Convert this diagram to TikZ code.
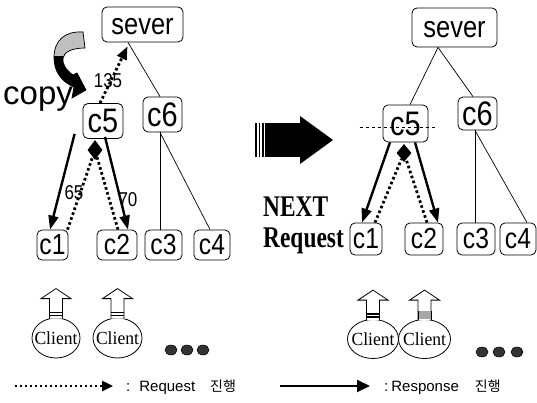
\documentclass[tikz,border=0pt]{standalone}
\usepackage{fontspec}
\usetikzlibrary{arrows.meta,shapes.geometric}
\setmainfont{Liberation Serif}
\newfontfamily\boxfont[FakeStretch=0.85]{Liberation Sans}
\newfontfamily\plainsans{Liberation Sans}
\newfontfamily\headfont[FakeStretch=0.78]{Liberation Serif}
\newfontfamily\clientfont[FakeStretch=0.95]{Liberation Serif}
\newfontfamily\cjk{Noto Sans CJK KR}

\begin{document}
\begin{tikzpicture}[x=1pt,y=-1pt,
  box/.style={draw, rounded corners=5pt, line width=0.8pt, inner sep=0pt},
  topbox/.style={box, font=\boxfont\fontsize{30}{30}\selectfont, text height=21pt, text depth=0pt},
  midbox/.style={box, font=\boxfont\fontsize{34}{34}\selectfont},
  leafbox/.style={box, font=\boxfont\fontsize{29}{29}\selectfont},
  link/.style={line width=0.7pt},
  resp/.style={line width=2.4pt, -{Triangle[length=14pt,width=10pt]}},
  reqline/.style={line width=2.8pt, dash pattern=on 2.6pt off 2.6pt},
  joint/.style={diamond, fill, inner sep=0pt, minimum width=15pt, minimum height=20pt},
  weight/.style={font=\boxfont\fontsize{20}{20}\selectfont, inner sep=0pt},
  client/.style={ellipse, draw, line width=0.8pt, inner sep=0pt, minimum height=40pt,
    font=\clientfont\fontsize{18.5}{18.5}\selectfont},
  moredot/.style={ellipse, fill=black!80, draw=black, line width=0.5pt, inner sep=0pt,
    minimum width=12pt, minimum height=10pt},
  legend/.style={font=\plainsans\fontsize{15}{15}\selectfont, inner sep=0pt},
  clientarrow/.pic={
    \draw[line width=0.8pt, fill=white] (-6.5,1) -- (-6.5,-19) -- (-15,-19) -- (0,-29)
      -- (15,-19) -- (6.5,-19) -- (6.5,1);
    \fill (-6.5,-6) rectangle (6.5,-4.5);
    \fill (-6.5,-2.8) rectangle (6.5,-1.3);
  },
  clientarrowshade/.pic={
    \draw[line width=0.8pt, fill=white] (-6.5,1) -- (-6.5,-19) -- (-15,-19) -- (0,-29)
      -- (15,-19) -- (6.5,-19) -- (6.5,1);
    \fill[gray!70] (-6.5,-8) rectangle (6.5,0);
    \draw[line width=0.8pt] (-6.5,1) -- (-6.5,-8) (6.5,1) -- (6.5,-8);
  }
]
\useasboundingbox (0,0) rectangle (537,403);

% ---------------- left tree ----------------
\node[topbox, minimum width=81pt, minimum height=35pt] (sL) at (142.5,24.5) {sever};
\node[midbox, minimum width=40pt, minimum height=35pt] (c5L) at (103,121) {c5};
\node[midbox, minimum width=39pt, minimum height=35pt] (c6L) at (162.5,114.5) {c6};
\node[leafbox, minimum width=31pt, minimum height=30pt] (c1L) at (52.5,245) {c1};
\node[leafbox, minimum width=40pt, minimum height=30pt] (c2L) at (117,245) {c2};
\node[leafbox, minimum width=37pt, minimum height=30pt] (c3L) at (163.5,245) {c3};
\node[leafbox, minimum width=36pt, minimum height=30pt] (c4L) at (212,245) {c4};
\node[joint] (dL) at (95,150) {};

\draw[link] ([xshift=-14.5pt]sL.south) -- ([xshift=-2.5pt]c6L.north);
\draw[link] ([xshift=-2.5pt]c6L.south) -- ([xshift=-3.5pt]c3L.north);
\draw[link] ([xshift=-2.5pt]c6L.south) -- ([xshift=-2pt]c4L.north);

\node[weight] (w135) at (108,81) {135};
\node[weight] (w65) at (74,193) {65};
\node[weight] (w70) at (128,200) {70};

\draw[reqline, -{Triangle[length=13pt,width=10pt]}] ([xshift=-3pt]c5L.north) -- ([xshift=-15pt,yshift=-4pt]sL.south);
\draw[reqline] ([xshift=15pt]c1L.north) -- (dL);
\draw[reqline] ([xshift=1pt]c2L.north) -- (dL);
\draw[resp] ([xshift=-8pt,yshift=5pt]c5L.south west) -- ([xshift=-2.5pt]c1L.north);
\draw[resp] ([xshift=2pt,yshift=2pt]c5L.south) -- ([xshift=11pt]c2L.north);

% curved copy arrow
\def\copyshape{(83,32) .. controls (65,31) and (54,40) .. (54,58)
  .. controls (54,72) and (62,82) .. (74,87) -- (72,98) -- (86,90) -- (77,73) -- (73,75)
  .. controls (66,70) and (62,64) .. (63,58) .. controls (64,52) and (72,48) .. (85,48) -- cycle}
\fill \copyshape;
\begin{scope}
  \clip (40,20) rectangle (100,56);
  \fill[gray!50] \copyshape;
\end{scope}
\draw[line width=0.7pt] \copyshape;
\node[font=\plainsans\fontsize{33}{33}\selectfont, inner sep=0pt, anchor=base west] (copy) at (3,105) {copy};

% ---------------- transition arrow ----------------
\foreach \sx in {256,259.5,263} \draw[line width=1.6pt] (\sx,123) -- (\sx,157);
\fill (264.5,123) rectangle (301,157);
\fill (300,116) -- (333,140) -- (300,164) -- cycle;
\node[font=\headfont\bfseries\fontsize{30}{30}\selectfont, inner sep=0pt, anchor=base west] (next) at (263,216) {NEXT};
\node[font=\headfont\bfseries\fontsize{30}{30}\selectfont, inner sep=0pt, anchor=base west] (request) at (263,247) {Request};

% ---------------- right tree ----------------
\node[topbox, minimum width=85pt, minimum height=39pt] (sR) at (454.5,27.5) {sever};
\node[midbox, minimum width=45pt, minimum height=37pt] (c5R) at (405.5,123.5) {c5};
\node[midbox, minimum width=39pt, minimum height=33pt] (c6R) at (477.5,113.5) {c6};
\node[leafbox, minimum width=32pt, minimum height=32pt] (c1R) at (366,239) {c1};
\node[leafbox, minimum width=38pt, minimum height=32pt] (c2R) at (424,239) {c2};
\node[leafbox, minimum width=38pt, minimum height=32pt] (c3R) at (476,239) {c3};
\node[leafbox, minimum width=36pt, minimum height=32pt] (c4R) at (518,239) {c4};
\node[joint, minimum height=18pt] (dR) at (404,153) {};

\draw[link] ([xshift=-16.5pt]sR.south) -- ([xshift=4.5pt]c5R.north);
\draw[link] ([xshift=-16.5pt]sR.south) -- ([xshift=-4.5pt]c6R.north);
\draw[link] ([xshift=-2.5pt]c6R.south) -- ([xshift=-1pt]c3R.north);
\draw[link] ([xshift=-2.5pt]c6R.south) -- ([xshift=9pt]c4R.north);
\draw[dashed, line width=0.6pt] ([xshift=-23pt,yshift=-3.5pt]c5R.west) -- ([xshift=9pt,yshift=-3.5pt]c5R.east);

\draw[reqline] ([xshift=9pt]c1R.north) -- (dR);
\draw[reqline] ([xshift=3pt]c2R.north) -- (dR);
\draw[resp] ([xshift=-15.5pt]c5R.south) -- ([xshift=-4pt]c1R.north);
\draw[resp] ([xshift=9.5pt]c5R.south) -- ([xshift=14pt]c2R.north);

% ---------------- clients ----------------
\node[client, minimum width=48pt] (cl1) at (56,338) {\makebox[0pt]{Client}};
\node[client, minimum width=49pt] (cl2) at (117.5,338) {\makebox[0pt]{Client}};
\node[client, minimum width=51pt, minimum height=39pt] (cr1) at (373,339) {\makebox[0pt]{Client}};
\node[client, minimum width=52pt, minimum height=39pt] (cr2) at (424.5,339) {\makebox[0pt]{Client}};
\pic at (cl1.north) {clientarrow};
\pic at (cl2.north) {clientarrow};
\pic at (cr1.north) {clientarrow};
\pic at (cr2.north) {clientarrowshade};

\foreach \dx [count=\i] in {171,187,203} \node[moredot] (ldot\i) at (\dx,350) {};
\foreach \dx [count=\i] in {482,499,517} \node[moredot] (rdot\i) at (\dx,352) {};

% ---------------- legend ----------------
\coordinate (rq0) at (15,386);
\coordinate (rq1) at (113,386);
\draw[reqline, line width=2.4pt, dash pattern=on 2.4pt off 2.6pt, -{Triangle[length=11pt,width=10pt]}] (rq0) -- (rq1);
\node[legend, anchor=base west] (rqtext) at (126,391) {:\hspace{9pt}Request\hspace{15pt}{\cjk\fontsize{14}{14}\selectfont 진행}};
\coordinate (rs0) at (280,386);
\coordinate (rs1) at (370,386);
\draw[resp, line width=2pt, -{Triangle[length=13pt,width=12pt]}] (rs0) -- (rs1);
\node[legend, anchor=base west] (rstext) at (384,391) {:\hspace{3pt}Response\hspace{16pt}{\cjk\fontsize{14}{14}\selectfont 진행}};
\end{tikzpicture}
\end{document}
